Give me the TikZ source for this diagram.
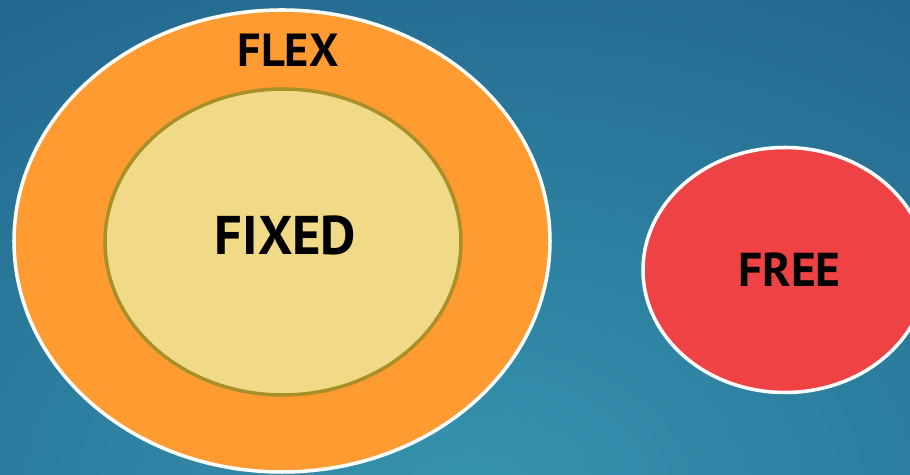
\documentclass[tikz,border=0pt]{standalone}
\usepackage{fontspec}
\setmainfont{PT Sans}
\usetikzlibrary{shapes.geometric}
\definecolor{bgdark}{HTML}{164B7A}
\definecolor{bglight}{HTML}{3694AE}
\definecolor{flexorange}{HTML}{FF9B31}
\definecolor{fixedfill}{HTML}{F0DA87}
\definecolor{fixededge}{HTML}{A88F28}
\definecolor{freered}{HTML}{EE4244}
\tikzset{
  blob/.style={ellipse, inner sep=0pt, line width=2pt},
  word/.style={font=\bfseries, text=black, inner sep=0pt}
}

\begin{document}
\begin{tikzpicture}
    \useasboundingbox (0,0) rectangle (18.2,9.5);
    \clip (0,0) rectangle (18.2,9.5);
    \shade[inner color=bglight, outer color=bgdark] (9.4,-0.4) ellipse (28 and 19);
    \node[blob, draw=white, fill=flexorange, minimum width=10.72cm, minimum height=9.24cm] (flex) at (5.64,4.68) {};
    \node[blob, draw=fixededge, fill=fixedfill, minimum width=7.12cm, minimum height=6.12cm] (fixed) at (5.66,4.66) {};
    \node[blob, draw=white, fill=freered, minimum width=5.68cm, minimum height=4.9cm] (free) at (15.7,4.1) {};
    \node[word, font=\fontsize{26.4}{30}\bfseries] (flexlabel) at (5.76,8.5) {FLEX};
    \node[word, font=\fontsize{31}{35}\bfseries] (fixedlabel) at (5.71,4.8) {FIXED};
    \node[word, font=\fontsize{27}{31}\bfseries] (freelabel) at (15.79,4.1) {FREE};
  \end{tikzpicture}
\end{document}
